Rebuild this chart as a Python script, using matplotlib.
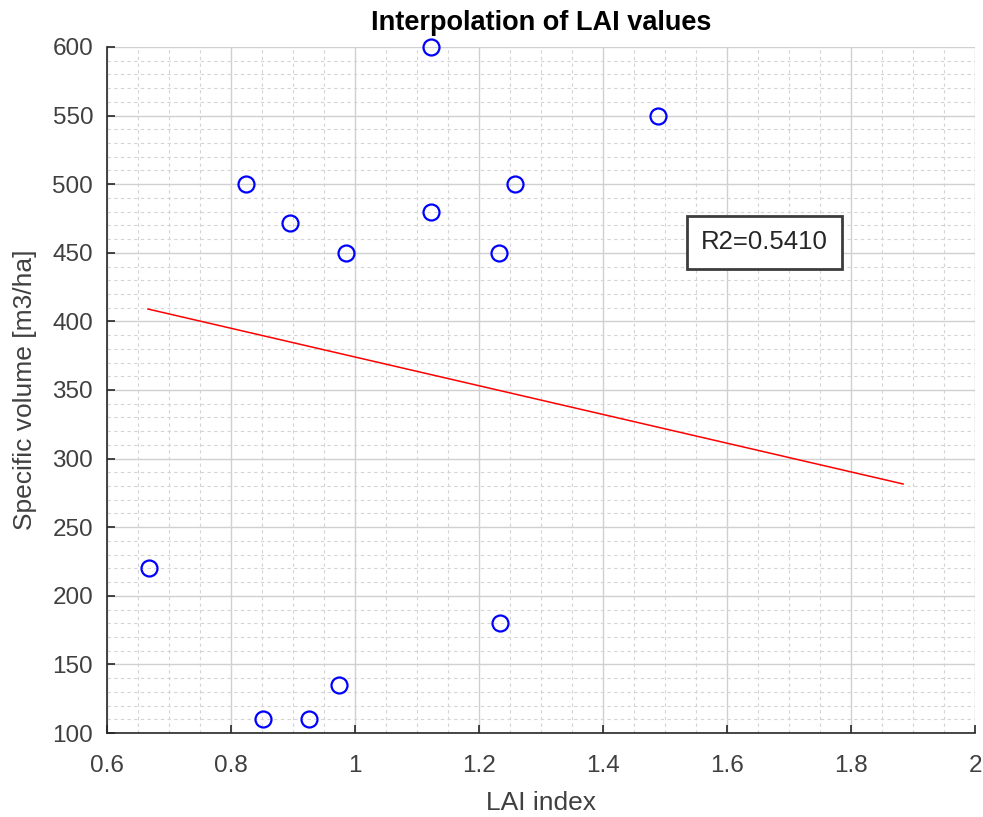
import matplotlib
matplotlib.use("Agg")
import matplotlib.pyplot as plt
import numpy as np

plt.rcParams['font.family'] = ['Liberation Sans', 'DejaVu Sans']
plt.rcParams['xtick.direction'] = 'in'
plt.rcParams['ytick.direction'] = 'in'

# LAI measurements vs specific volume
lai = [1.123, 1.489, 0.824, 0.895, 0.986, 1.123, 1.258, 1.232,
       0.667, 1.234, 0.974, 0.852, 0.926]
volume = [600, 550, 500, 472, 450, 480, 500, 450,
          220, 180, 135, 110, 110]

# fitted line end points
fit_x = [0.666, 1.884]
fit_y = [409, 281.5]

r2_text = 'R2=0.5410'

fig = plt.figure(figsize=(9.83, 8.17), dpi=100)
ax = fig.add_axes([0.1089, 0.1028, 0.883, 0.8397])

ax.plot(lai, volume, 'o', mfc='none', mec='blue', ms=11.5, mew=1.6, zorder=3,
        clip_on=False)
ax.plot(fit_x, fit_y, '-', color='red', lw=1.1, zorder=3)

ax.set_xlim(0.6, 2)
ax.set_ylim(100, 600)
ax.set_xticks(np.arange(0.6, 2.01, 0.2))
ax.set_xticklabels(['0.6', '0.8', '1', '1.2', '1.4', '1.6', '1.8', '2'])
ax.set_yticks(np.arange(100, 601, 50))
ax.set_xticks(np.arange(0.6, 2.001, 0.05), minor=True)
ax.set_yticks(np.arange(100, 601, 10), minor=True)

ax.grid(which='major', color='#d0d0d0', lw=1, ls='-')
ax.grid(which='minor', color='#d4d4d4', lw=0.8, ls=(0, (3, 3)))
ax.set_axisbelow(True)

for s in ['top', 'right']:
    ax.spines[s].set_visible(False)
for s in ['left', 'bottom']:
    ax.spines[s].set_color('#262626')
    ax.spines[s].set_linewidth(1.2)

ax.tick_params(which='major', direction='in', length=6, width=1.2,
               colors='#262626', labelcolor='#404040', labelsize=17.5)
ax.tick_params(which='minor', length=0)
ax.tick_params(axis='x', pad=16)
ax.tick_params(axis='y', pad=10)

ax.set_xlabel('LAI index', fontsize=19, color='#404040', labelpad=10)
ax.set_ylabel('Specific volume [m3/ha]', fontsize=19, color='#404040', labelpad=11)
ax.set_title('Interpolation of LAI values', fontsize=19.5, fontweight='bold', pad=12)

ax.text(1.66, 457.5, r2_text, fontsize=18.5, ha='center', va='center', color='#262626',
        bbox=dict(boxstyle='square,pad=0.55', fc='white', ec='#3c3c3c', lw=2))

fig.savefig('out.png', dpi=100)
